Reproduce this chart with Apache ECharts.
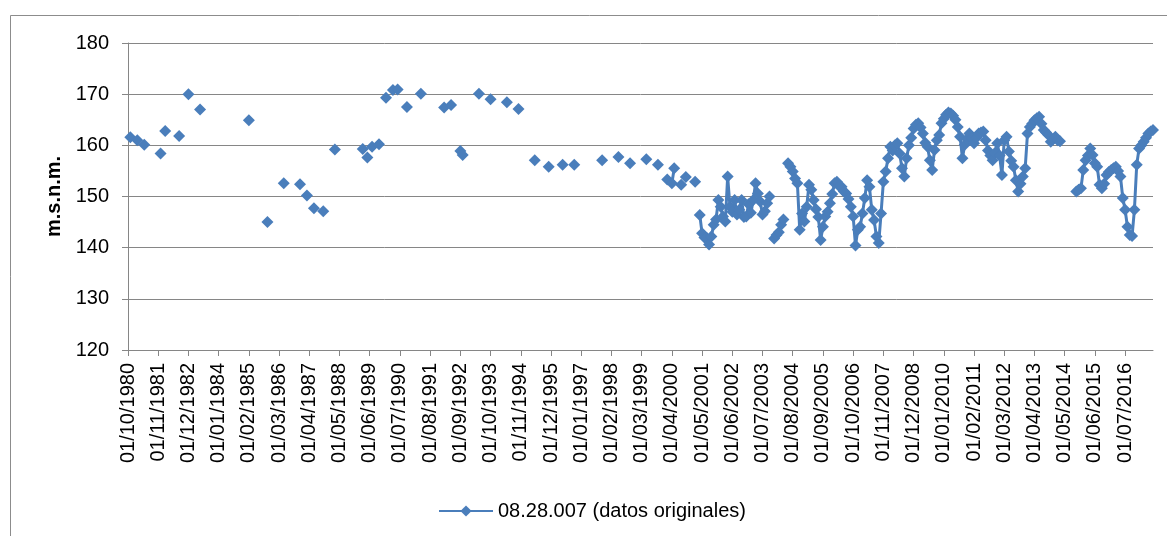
<!DOCTYPE html>
<html><head><meta charset="utf-8">
<script src="https://cdn.jsdelivr.net/npm/echarts@6/dist/echarts.min.js"></script>
<style>html,body{margin:0;padding:0;background:#fff}#c{width:1167px;height:536px}</style>
</head><body><div id="c"></div>
<script>
// Axis range (monthly date axis)
const axisStart = '1980-10';
const axisEnd = '2017-07';
const tickEveryMonths = 13;
const yMin = 120, yMax = 180, yStep = 10;
const seriesName = '08.28.007 (datos originales)';
const yTitle = 'm.s.n.m.';

// Isolated measurements (no neighbours -> markers only)
const isolatedDates = ['1980-11','1981-02','1981-05','1981-12','1982-02','1982-08','1982-12','1983-05',
  '1985-02','1985-10','1986-05','1986-12','1987-03','1987-06','1987-10','1988-03',
  '1989-03','1989-05','1989-07','1989-10','1990-01','1990-04','1990-06','1990-10',
  '1991-04','1992-02','1992-05','1992-09','1992-10','1993-05','1993-10','1994-05',
  '1994-10','1995-05','1995-11','1996-05','1996-10','1997-10','1998-05','1998-10',
  '1999-05','1999-10','2000-02','2000-04','2000-05','2000-08','2000-10','2001-02'];
const isolatedLevels = [161.6,161.0,160.1,158.4,162.8,161.8,170.0,167.0,
  164.9,145.0,152.6,152.4,150.2,147.7,147.1,159.2,
  159.3,157.6,159.7,160.2,169.3,170.8,170.9,167.5,
  170.1,167.4,167.9,158.9,158.1,170.1,169.0,168.4,
  167.1,157.1,155.8,156.2,156.2,157.1,157.7,156.5,
  157.3,156.2,153.3,152.6,155.5,152.3,153.8,152.9];

// Continuous monthly runs
const runStarts = ['2001-04','2003-12','2004-06','2014-10'];
const run1Levels = [146.4,142.8,142.0,141.9,140.6,142.2,144.5,145.5,149.3,148.0,146.1,145.1,153.9,148.0,147.0,149.3,
  146.5,147.4,149.3,146.0,146.1,148.5,146.8,149.3,152.6,150.6,149.0,146.5,147.1,148.7,150.0];
const run2Levels = [141.8,142.5,143.0,144.5,145.5];
const run3Levels = [156.5,155.8,154.9,153.5,152.6,143.5,146.7,145.1,148.0,152.3,151.3,149.3,147.5,146.0,141.5,144.1,
  146.1,147.0,148.7,150.5,152.6,152.9,152.0,151.9,151.0,150.6,149.5,148.0,146.1,140.4,143.5,144.1,
  146.7,149.7,153.2,151.9,147.4,145.4,142.2,140.9,146.7,152.9,154.9,157.5,159.7,159.0,160.0,160.4,
  158.4,155.5,153.9,157.5,160.0,161.5,163.3,164.0,164.3,163.5,162.3,160.5,159.7,157.1,155.2,159.1,
  161.0,162.0,164.3,165.2,166.0,166.4,166.2,165.8,165.0,163.6,161.7,157.5,160.1,161.2,162.3,161.4,
  160.4,161.5,162.3,162.5,162.7,161.0,159.0,158.0,157.1,158.5,160.4,158.0,154.2,161.0,161.7,158.8,
  157.0,155.8,153.2,151.0,152.5,153.9,155.5,162.3,163.6,164.2,164.9,165.3,165.6,164.2,163.0,162.5,
  162.0,160.7,161.2,161.7,161.0,160.8];
const run4Levels = [151.0,151.3,151.6,155.2,157.1,158.0,159.4,158.1,156.5,155.8,152.3,151.6,152.5,154.2,154.8,155.2,
  155.5,155.8,155.0,153.9,149.7,147.4,144.1,142.5,142.3,147.4,156.2,159.4,160.0,160.7,161.5,162.3,
  162.7,163.0];
const runs = [run1Levels, run2Levels, run3Levels, run4Levels];

// ---- build monthly category axis & values ----
function ym(s){ const p = s.split('-').map(Number); return p[0]*12 + p[1]-1; }
const base = ym(axisStart);
const nMonths = ym(axisEnd) - base + 1;
const categories = [];
for (let i = 0; i < nMonths; i++) {
  const t = base + i, y = Math.floor(t/12), m = t%12 + 1;
  categories.push('01/' + (m < 10 ? '0' + m : m) + '/' + y);
}
const values = new Array(nMonths).fill('-');
isolatedDates.forEach((d, i) => { values[ym(d) - base] = isolatedLevels[i]; });
runStarts.forEach((d, r) => { const s = ym(d) - base; runs[r].forEach((v, k) => { values[s + k] = v; }); });

const FONT = '"Liberation Sans", Arial, sans-serif';
const GRID = '#868686';
const BLUE = '#4A7EBB';

const chart = echarts.init(document.getElementById('c'), null, {renderer: 'canvas'});
chart.setOption({
  animation: false,
  backgroundColor: '#fff',
  textStyle: {fontFamily: FONT, color: '#000'},
  graphic: [{
    type: 'rect', left: 8, top: 13, silent: true,
    shape: {x: 0.5, y: 0.5, width: 1400, height: 700},
    style: {fill: 'none', stroke: '#8c8c8c', lineWidth: 1}
  }],
  grid: {left: 128, right: 14, top: 43, bottom: 186, containLabel: false},
  legend: {
    data: [seriesName], left: 433, top: 496,
    itemWidth: 54, itemHeight: 14,
    textStyle: {fontFamily: FONT, fontSize: 20, color: '#000'}
  },
  xAxis: {
    type: 'category', data: categories, boundaryGap: false,
    axisLine: {lineStyle: {color: GRID, width: 1}},
    axisTick: {show: true, interval: tickEveryMonths - 1, length: 6, lineStyle: {color: GRID}},
    axisLabel: {interval: tickEveryMonths - 1, rotate: 90, margin: 13, fontSize: 20, color: '#000', fontFamily: FONT},
    splitLine: {show: false}
  },
  yAxis: {
    type: 'value', min: yMin, max: yMax, interval: yStep,
    name: yTitle, nameLocation: 'middle', nameRotate: 90, nameGap: 60,
    nameTextStyle: {fontFamily: FONT, fontSize: 20, fontWeight: 'bold', color: '#000'},
    axisLine: {show: true, lineStyle: {color: GRID, width: 1}},
    axisTick: {show: true, length: 6, lineStyle: {color: GRID}},
    axisLabel: {margin: 19, fontSize: 20, color: '#000', fontFamily: FONT},
    splitLine: {show: true, lineStyle: {color: GRID, width: 1}}
  },
  series: [{
    name: seriesName, type: 'line', data: values,
    connectNulls: false, showAllSymbol: true, showSymbol: true,
    symbol: 'diamond', symbolSize: 12,
    lineStyle: {color: BLUE, width: 3},
    itemStyle: {color: BLUE},
    emphasis: {disabled: true}
  }]
});
</script></body></html>
